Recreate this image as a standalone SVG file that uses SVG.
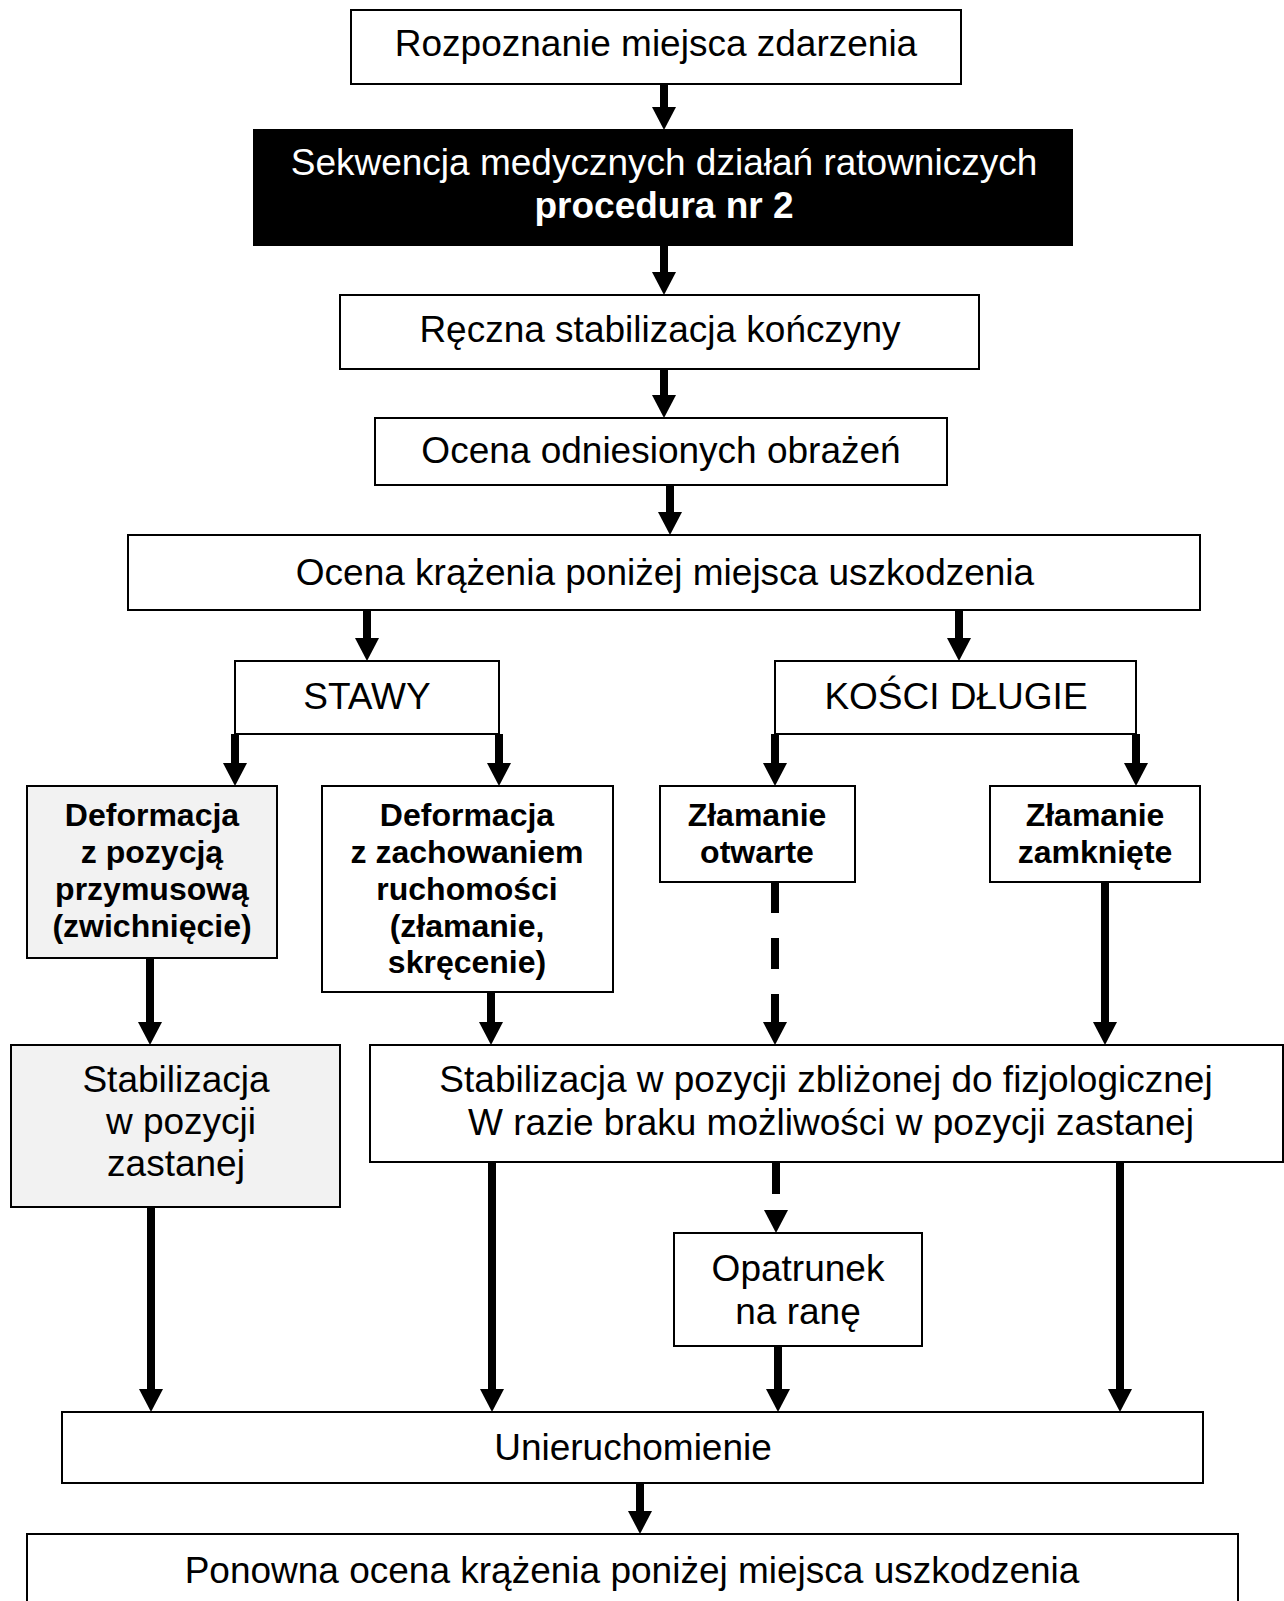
<svg xmlns="http://www.w3.org/2000/svg" width="1284" height="1601" viewBox="0 0 1284 1601">
<defs>
<style>
.box{fill:#fff;stroke:#000;stroke-width:2}
.gray{fill:#f2f2f2;stroke:#000;stroke-width:2}
.dark{fill:#000;stroke:#000;stroke-width:2}
.t{font-family:"Liberation Sans",Arial,sans-serif;font-size:37px;fill:#000;text-anchor:middle}
.b{font-family:"Liberation Sans",Arial,sans-serif;font-size:32px;font-weight:bold;fill:#000;text-anchor:middle}
.w{fill:#fff}
.bold{font-weight:bold}
.c{stroke:#000;stroke-width:8;fill:none;marker-end:url(#ah)}
.d{stroke-dasharray:31 25}
</style>
<marker id="ah" markerUnits="userSpaceOnUse" markerWidth="24" markerHeight="24" viewBox="0 0 23 24" refX="2" refY="12" orient="auto">
<path d="M0,0 L23,12 L0,24 z" fill="#000"/>
</marker>
</defs>
<rect width="1284" height="1601" fill="#fff"/>

<g id="connectors">
<line class="c" x1="664" y1="84" x2="664" y2="109"/>
<line class="c" x1="664" y1="245" x2="664" y2="274"/>
<line class="c" x1="664" y1="369" x2="664" y2="397"/>
<line class="c" x1="670" y1="485" x2="670" y2="514"/>
<line class="c" x1="367" y1="610" x2="367" y2="640"/>
<line class="c" x1="959" y1="610" x2="959" y2="640"/>
<line class="c" x1="235" y1="734" x2="235" y2="765"/>
<line class="c" x1="499" y1="734" x2="499" y2="765"/>
<line class="c" x1="775" y1="734" x2="775" y2="765"/>
<line class="c" x1="1136" y1="734" x2="1136" y2="765"/>
<line class="c" x1="150" y1="958" x2="150" y2="1024"/>
<line class="c" x1="491" y1="992" x2="491" y2="1024"/>
<line class="c d" x1="775" y1="882" x2="775" y2="1024"/>
<line class="c" x1="1105" y1="882" x2="1105" y2="1024"/>
<line class="c" x1="151" y1="1207" x2="151" y2="1391"/>
<line class="c" x1="492" y1="1162" x2="492" y2="1391"/>
<line class="c d" x1="776" y1="1163" x2="776" y2="1212"/>
<line class="c" x1="778" y1="1346" x2="778" y2="1391"/>
<line class="c" x1="1120" y1="1162" x2="1120" y2="1391"/>
<line class="c" x1="640" y1="1483" x2="640" y2="1513"/>
</g>

<g id="n1">
<rect class="box" x="351" y="10" width="610" height="74"/>
<text class="t" x="656" y="56">Rozpoznanie miejsca zdarzenia</text>
</g>
<g id="n2">
<rect class="dark" x="254" y="130" width="818" height="115"/>
<text class="t w" x="664" y="175">Sekwencja medycznych działań ratowniczych</text>
<text class="t w bold" x="664" y="218">procedura nr 2</text>
</g>
<g id="n3">
<rect class="box" x="340" y="295" width="639" height="74"/>
<text class="t" x="660" y="342">Ręczna stabilizacja kończyny</text>
</g>
<g id="n4">
<rect class="box" x="375" y="418" width="572" height="67"/>
<text class="t" x="661" y="463">Ocena odniesionych obrażeń</text>
</g>
<g id="n5">
<rect class="box" x="128" y="535" width="1072" height="75"/>
<text class="t" x="665" y="585">Ocena krążenia poniżej miejsca uszkodzenia</text>
</g>
<g id="stawy">
<rect class="box" x="235" y="661" width="264" height="73"/>
<text class="t" x="367" y="709">STAWY</text>
</g>
<g id="kosci">
<rect class="box" x="775" y="661" width="361" height="73"/>
<text class="t" x="956" y="709">KOŚCI DŁUGIE</text>
</g>
<g id="def1">
<rect class="gray" x="27" y="786" width="250" height="172"/>
<text class="b" x="152" y="826">Deformacja</text>
<text class="b" x="152" y="863">z pozycją</text>
<text class="b" x="152" y="900">przymusową</text>
<text class="b" x="152" y="937">(zwichnięcie)</text>
</g>
<g id="def2">
<rect class="box" x="322" y="786" width="291" height="206"/>
<text class="b" x="467" y="826">Deformacja</text>
<text class="b" x="467" y="863">z zachowaniem</text>
<text class="b" x="467" y="900">ruchomości</text>
<text class="b" x="467" y="937">(złamanie,</text>
<text class="b" x="467" y="973">skręcenie)</text>
</g>
<g id="zlam-otw">
<rect class="box" x="660" y="786" width="195" height="96"/>
<text class="b" x="757" y="826">Złamanie</text>
<text class="b" x="757" y="863">otwarte</text>
</g>
<g id="zlam-zam">
<rect class="box" x="990" y="786" width="210" height="96"/>
<text class="b" x="1095" y="826">Złamanie</text>
<text class="b" x="1095" y="863">zamknięte</text>
</g>
<g id="stab1">
<rect class="gray" x="11" y="1045" width="329" height="162"/>
<text class="t" x="176" y="1092">Stabilizacja</text>
<text class="t" x="181" y="1134">w pozycji</text>
<text class="t" x="176" y="1176">zastanej</text>
</g>
<g id="stab2">
<rect class="box" x="370" y="1045" width="913" height="117"/>
<text class="t" x="826" y="1092">Stabilizacja w pozycji zbliżonej do fizjologicznej</text>
<text class="t" x="831" y="1135">W razie braku możliwości w pozycji zastanej</text>
</g>
<g id="opatrunek">
<rect class="box" x="674" y="1233" width="248" height="113"/>
<text class="t" x="798" y="1281">Opatrunek</text>
<text class="t" x="798" y="1324">na ranę</text>
</g>
<g id="unieruch">
<rect class="box" x="62" y="1412" width="1141" height="71"/>
<text class="t" x="633" y="1460">Unieruchomienie</text>
</g>
<g id="ponowna">
<rect class="box" x="27" y="1534" width="1211" height="90"/>
<text class="t" x="632" y="1583">Ponowna ocena krążenia poniżej miejsca uszkodzenia</text>
</g>
</svg>
